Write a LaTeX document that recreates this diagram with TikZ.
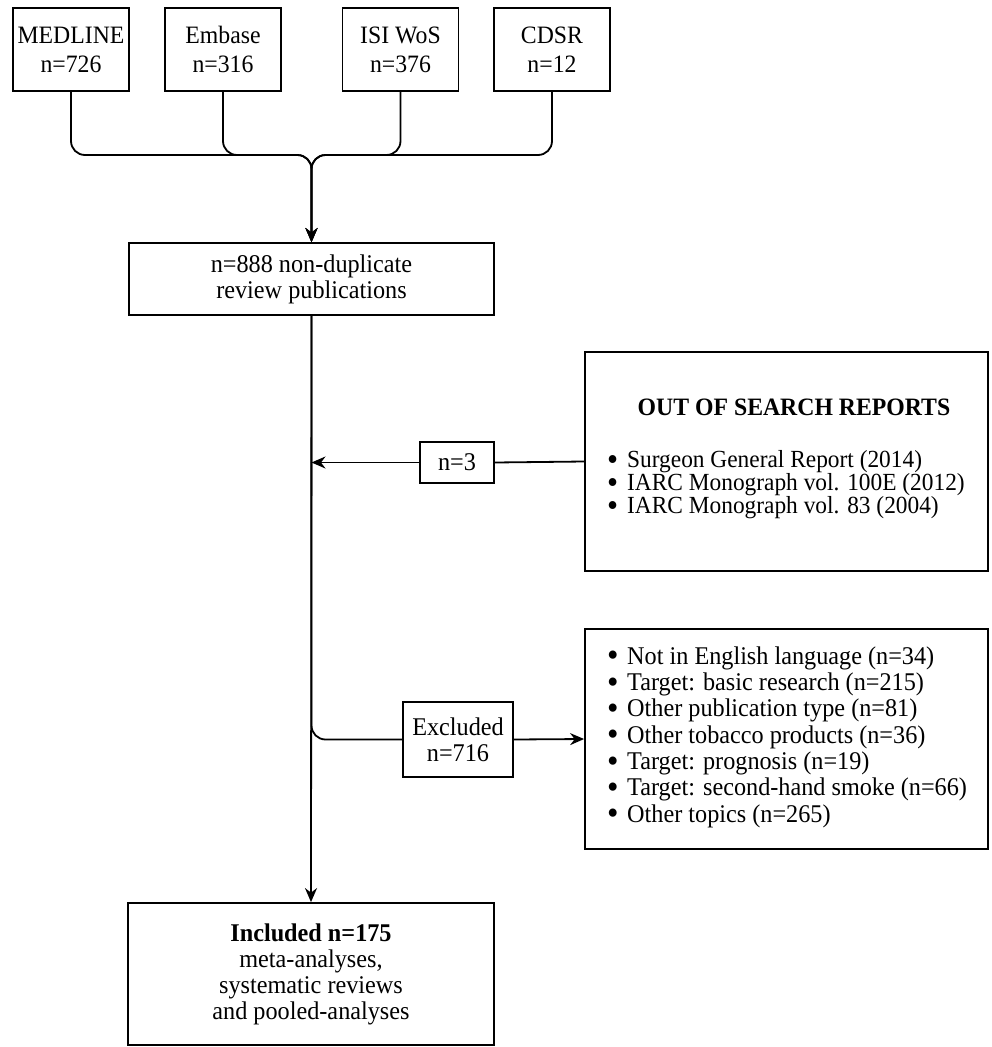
\documentclass[tikz,border=0pt]{standalone}
\usepackage{fontspec}
\setmainfont{Liberation Serif}[FakeStretch=0.95]
\usetikzlibrary{arrows.meta}

\tikzset{
  box/.style={draw, line width=1.8pt, align=center, inner sep=0pt},
  flow/.style={line width=1.8pt},
  arr/.style={flow, -{Stealth[length=14pt,width=12pt]}},
}

\newcommand\itm{\makebox[20pt][l]{\smash{\raisebox{-2.6pt}{\scalebox{1.35}{\textbullet}}}}}

\begin{document}
\begin{tikzpicture}[x=1pt, y=-1pt]

  \fontsize{25.5}{26}\selectfont

  \newcommand\YTOP{49.5};
  \newcommand\XMAIN{311.5};
  \newcommand\XRIGHT{786.5};

  \useasboundingbox (0,0) rectangle (992,1047);

  % databases
  \node[box, minimum width=116pt, minimum height=83pt, font=\fontsize{25}{29}\selectfont] (medline) at (71,\YTOP) {MEDLINE\\n=726};
  \node[box, minimum width=116pt, minimum height=83pt, font=\fontsize{25}{29}\selectfont] (embase) at (223,\YTOP) {Embase\\n=316};
  \node[box, minimum width=116pt, minimum height=83pt, font=\fontsize{25}{29}\selectfont] (isi) at (400.5,\YTOP) {ISI WoS\\n=376};
  \node[box, minimum width=116pt, minimum height=83pt, font=\fontsize{25}{29}\selectfont] (cdsr) at (552,\YTOP) {CDSR\\n=12};

  \node[box, minimum width=365pt, minimum height=72pt] (dedup) at (\XMAIN,279) {n=888 non-duplicate\\review publications};
  \coordinate (join) at (\XMAIN,155);

  \foreach \src in {medline,embase,isi,cdsr}
    \draw[arr, rounded corners=14pt] (\src.south) |- (join) -- (dedup.north);

  % out of search
  \node[box, minimum width=403pt, minimum height=219pt] (oos) at (\XRIGHT,461.5) {};
  \node[font=\fontsize{25}{26}\bfseries] (oostitle) at (794,407) {OUT OF SEARCH REPORTS};
  \node[anchor=west, align=left, inner sep=0pt, font=\fontsize{24.6}{23}\selectfont] (ooslist) at (607,485)
    {\itm Surgeon General Report (2014)\\
     \itm IARC Monograph vol. 100E (2012)\\
     \itm IARC Monograph vol. 83 (2004)};

  \node[box, minimum width=74pt, minimum height=41pt] (nthree) at (457,462.5) {n=3};
  \draw[flow] (oos.west) -- (nthree.east);
  \draw[arr] (nthree.west) -- (nthree.west -| dedup.south);

  % exclusions
  \node[box, minimum width=110pt, minimum height=75pt] (excl) at (458,739.5) {Excluded\\n=716};
  \node[box, minimum width=403pt, minimum height=220pt] (reasons) at (\XRIGHT,739) {};
  \node[anchor=west, align=left, inner sep=0pt, font=\fontsize{25.5}{26.3}\selectfont] (reaslist) at (607,737)
    {\itm Not in English language (n=34)\\
     \itm Target: basic research (n=215)\\
     \itm Other publication type (n=81)\\
     \itm Other tobacco products (n=36)\\
     \itm Target: prognosis (n=19)\\
     \itm Target: second-hand smoke (n=66)\\
     \itm Other topics (n=265)};

  \draw[flow, rounded corners=14pt] (dedup.south) |- (excl.west);
  \draw[arr] (excl.east) -- (reasons.west);

  % included
  \node[box, minimum width=366pt, minimum height=142pt] (incl) at (311,974)
    {\textbf{Included n=175}\\meta-analyses,\\systematic reviews\\and pooled-analyses};
  \draw[arr] (dedup.south) -- (incl.north);

\end{tikzpicture}
\end{document}
